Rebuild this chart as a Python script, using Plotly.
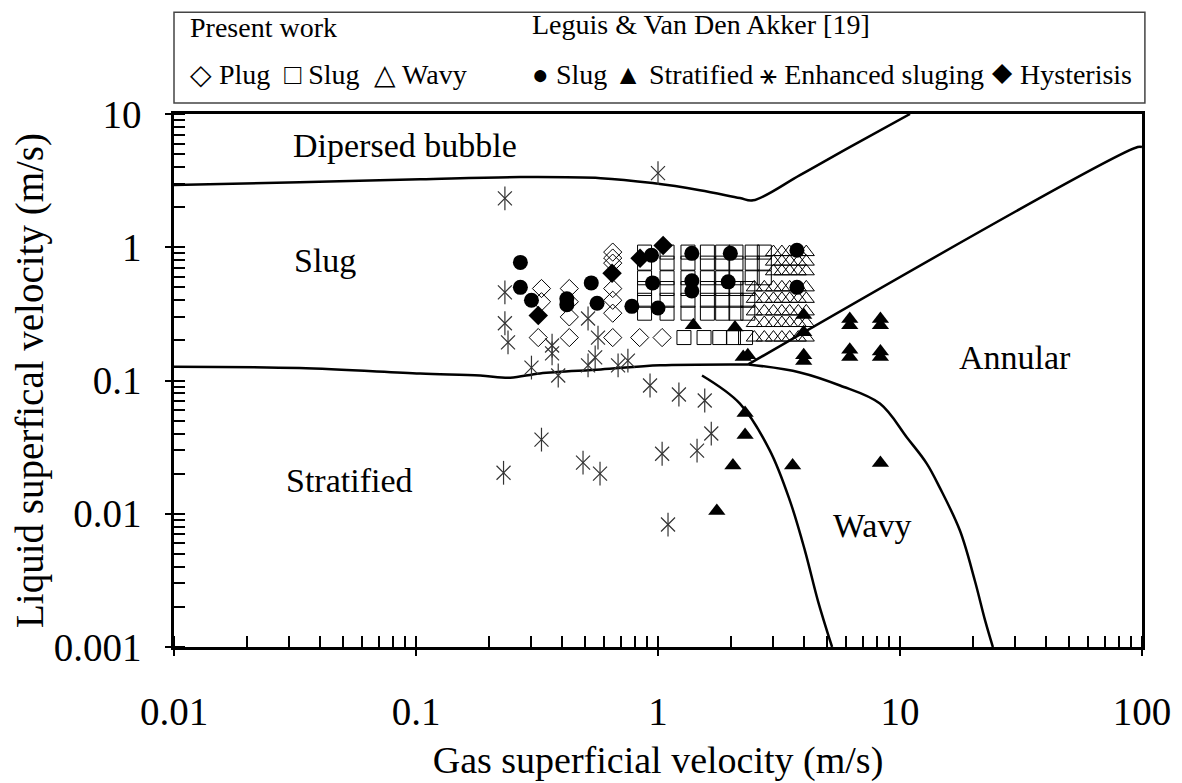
import numpy as np
import plotly.graph_objects as go

FONT = "Liberation Serif, Times New Roman, serif"

# ── Flow-regime boundaries (Taitel & Dukler type map) ────────────────────────
db_x = [0.01, 0.033, 0.104, 0.27, 0.58, 0.95, 1.49, 2.18, 2.47, 3.86, 6.2, 11.0]
db_y = [2.93, 3.08, 3.24, 3.36, 3.30, 3.03, 2.68, 2.34, 2.25, 3.48, 5.65, 10.0]

st_x = [0.01, 0.033, 0.104, 0.184, 0.245, 0.325, 0.58, 1.02, 2.18, 2.36]
st_y = [0.127, 0.124, 0.113, 0.109, 0.105, 0.113, 0.121, 0.130, 0.132, 0.132]

an_x = [2.36, 96.0, 100.0]
an_y = [0.132, 5.65, 5.65]

wa_x = [2.36, 3.86, 5.65, 8.26, 10.7, 12.9, 14.6, 17.7, 20.4, 22.5, 24.2]
wa_y = [0.132, 0.115, 0.0917, 0.0671, 0.0372, 0.0238, 0.0157, 0.00745, 0.00313, 0.00157, 0.001]

sw_x = [1.52, 2.18, 2.9, 3.51, 4.05, 4.58, 5.24]
sw_y = [0.109, 0.0671, 0.0298, 0.0125, 0.00527, 0.00222, 0.001]

# ── Present work ─────────────────────────────────────────────────────────────
plug_x = [0.33, 0.33, 0.32, 0.43, 0.43, 0.43, 0.43,
          0.65, 0.65, 0.65, 0.65, 0.65, 0.65, 0.65, 0.84, 1.04]
plug_y = [0.49, 0.39, 0.21, 0.49, 0.39, 0.30, 0.21,
          0.92, 0.83, 0.76, 0.49, 0.40, 0.32, 0.21, 0.21, 0.21]

slug_x = [0.88, 1.09, 1.33, 1.6, 1.85, 2.1, 2.45, 2.75,
          0.88, 1.09, 1.33, 1.6, 1.85, 2.1, 2.45, 2.75,
          0.88, 1.09, 1.33, 1.6, 1.85, 2.1, 2.45, 2.75,
          0.88, 1.09, 1.33, 1.6, 1.85, 2.1, 2.35,
          0.88, 1.09, 1.33, 1.6, 1.85, 2.1, 2.35,
          0.88, 1.09, 1.33, 1.6, 1.85, 2.1, 2.35,
          1.28, 1.55, 1.8, 2.05, 2.3]
slug_y = [0.92] * 8 + [0.76] * 8 + [0.59] * 8 + [0.49] * 7 + [0.40] * 7 + [0.32] * 7 + [0.21] * 5

wavy_x = [3.0, 3.25, 3.5, 3.8, 4.1,
          3.0, 3.25, 3.5, 3.8, 4.1,
          3.0, 3.25, 3.5, 3.8, 4.1,
          2.5, 2.75, 3.0, 3.25, 3.5, 3.8, 4.1,
          2.5, 2.75, 3.0, 3.25, 3.5, 3.8, 4.1,
          2.5, 2.75, 3.0, 3.25, 3.5, 3.8, 4.1,
          2.5, 2.75, 3.0, 3.25, 3.5, 3.8, 4.1,
          2.5, 2.75, 3.0, 3.25, 3.5, 3.8, 4.1]
wavy_y = [0.92] * 5 + [0.78] * 5 + [0.66] * 5 + [0.50] * 7 + [0.41] * 7 + [0.33] * 7 + [0.27] * 7 + [0.21] * 7

# ── Leguis & Van Den Akker [19] ──────────────────────────────────────────────
lslug_x = [0.27, 0.27, 0.30, 0.42, 0.42, 0.53, 0.56, 0.78, 0.95,
           0.94, 1.0, 1.38, 1.38, 1.38, 1.99, 1.95, 3.75, 3.75]
lslug_y = [0.77, 0.50, 0.40, 0.41, 0.37, 0.54, 0.38, 0.36, 0.54,
           0.87, 0.35, 0.90, 0.56, 0.47, 0.90, 0.55, 0.95, 0.50]

strat_x = [1.40, 2.08, 2.25, 2.35, 2.29, 2.29, 2.04, 1.75,
           4.0, 4.0, 4.0, 4.0, 6.2, 6.2, 6.2, 6.2,
           8.3, 8.3, 8.3, 8.3, 3.6, 8.3]
strat_y = [0.26, 0.25, 0.15, 0.155, 0.057, 0.039, 0.023, 0.0105,
           0.31, 0.23, 0.155, 0.14, 0.29, 0.26, 0.17, 0.15,
           0.29, 0.26, 0.165, 0.15, 0.023, 0.024]

enh_x = [0.233, 1.0, 0.233, 0.233, 0.24, 0.365, 0.365, 0.30, 0.387,
         0.514, 0.565, 0.55, 0.514, 0.684, 0.751, 0.927, 1.22, 1.56,
         1.66, 1.45, 1.04, 1.1, 0.33, 0.23, 0.49, 0.576]
enh_y = [2.33, 3.6, 0.459, 0.269, 0.193, 0.183, 0.16, 0.125, 0.109,
         0.292, 0.21, 0.149, 0.13, 0.13, 0.141, 0.0917, 0.0785, 0.0708,
         0.04, 0.0298, 0.0282, 0.0083, 0.036, 0.0203, 0.0242, 0.02]

hyst_x = [0.32, 0.646, 0.843, 1.05]
hyst_y = [0.308, 0.638, 0.826, 1.03]

# region labels
reg_text = ["Dipersed bubble", "Slug", "Stratified", "Annular", "Wavy"]
reg_x = [0.090, 0.042, 0.0533, 29.8, 7.65]
reg_y = [5.85, 0.80, 0.0177, 0.149, 0.0081]

fig = go.Figure()

for cx, cy in [(db_x, db_y), (st_x, st_y), (an_x, an_y), (wa_x, wa_y), (sw_x, sw_y)]:
    fig.add_trace(go.Scatter(x=cx, y=cy, mode="lines", line=dict(color="black", width=2.5),
                             line_shape="spline", hoverinfo="skip"))

mk_line = dict(color="black", width=1)
fig.add_trace(go.Scatter(x=plug_x, y=plug_y, mode="markers", name="Plug",
                         marker=dict(symbol="diamond-open", size=14, color="black", line=mk_line)))
fig.add_trace(go.Scatter(x=slug_x, y=slug_y, mode="markers", name="Slug",
                         marker=dict(symbol="square-open", size=14, color="black", line=mk_line)))
fig.add_trace(go.Scatter(x=wavy_x, y=wavy_y, mode="markers", name="Wavy",
                         marker=dict(symbol="triangle-up-open", size=14, color="black", line=mk_line)))
fig.add_trace(go.Scatter(x=lslug_x, y=lslug_y, mode="markers", name="Slug [19]",
                         marker=dict(symbol="circle", size=15, color="black")))
fig.add_trace(go.Scatter(x=strat_x, y=strat_y, mode="markers", name="Stratified [19]",
                         marker=dict(symbol="triangle-up", size=15, color="black")))
fig.add_trace(go.Scatter(x=enh_x, y=enh_y, mode="markers", name="Enhanced sluging",
                         marker=dict(symbol="x-thin-open", size=14, color="#333",
                                     line=dict(color="#333", width=1.2))))
fig.add_trace(go.Scatter(x=enh_x, y=enh_y, mode="markers", showlegend=False, hoverinfo="skip",
                         marker=dict(symbol="line-ns-open", size=17, color="#333",
                                     line=dict(color="#333", width=1.2))))
fig.add_trace(go.Scatter(x=hyst_x, y=hyst_y, mode="markers", name="Hysterisis",
                         marker=dict(symbol="diamond", size=15, color="black")))

for t, x, y in zip(reg_text, reg_x, reg_y):
    fig.add_annotation(x=np.log10(x), y=np.log10(y), text=t, showarrow=False,
                       font=dict(family=FONT, size=34, color="black"))

# legend box
fig.add_shape(type="rect", xref="paper", yref="paper", x0=0.0, x1=1.003, y0=1.0206, y1=1.191,
              line=dict(color="#444", width=1.5))
leg = [
    ("Present work", 0.0145, 1.163),
    ("◇ Plug  □ Slug  △ Wavy", 0.0145, 1.075),
    ("Leguis &amp; Van Den Akker [19]", 0.368, 1.168),
    ("● Slug ▲ Stratified ⚹ Enhanced sluging ◆ Hysterisis", 0.368, 1.075),
]
for t, x, y in leg:
    fig.add_annotation(xref="paper", yref="paper", x=x, y=y, text=t, showarrow=False,
                       xanchor="left", yanchor="middle",
                       font=dict(family=FONT, size=28, color="black"))

x_minor = [m * 10.0 ** e for e in range(-2, 2) for m in range(1, 10)] + [100]
y_minor = [m * 10.0 ** e for e in range(-3, 1) for m in range(1, 10)] + [10]

axis_common = dict(
    type="log", showgrid=False, zeroline=False, showline=True, linecolor="black",
    linewidth=2.5, mirror=True, ticks="outside", ticklen=6, tickwidth=1.5, tickcolor="black",
    tickfont=dict(family=FONT, size=39, color="black"), automargin=False,
)
fig.update_xaxes(**axis_common, range=[-2, 2],
                 tickvals=[0.01, 0.1, 1, 10, 100], ticktext=["0.01", "0.1", "1", "10", "100"],
                 ticklabelstandoff=22,
                 minor=dict(tickvals=x_minor, ticks="inside", ticklen=11, tickwidth=1.5,
                            tickcolor="black", showgrid=False),
                 title=dict(text="Gas superficial velocity (m/s)", standoff=15,
                            font=dict(family=FONT, size=38, color="black")))
fig.update_yaxes(**axis_common, range=[-3, 1],
                 tickvals=[0.001, 0.01, 0.1, 1, 10], ticktext=["0.001", "0.01", "0.1", "1", "10"],
                 ticklabelstandoff=16,
                 minor=dict(tickvals=y_minor, ticks="inside", ticklen=11, tickwidth=1.5,
                            tickcolor="black", showgrid=False),
                 title=dict(text="Liquid superfical velocity (m/s)", standoff=9,
                            font=dict(family=FONT, size=39, color="black")))

# page body has an 8 px margin, so the figure is shifted by 8 px
fig.update_layout(
    width=1174, height=775, showlegend=False,
    paper_bgcolor="white", plot_bgcolor="white",
    margin=dict(l=166, r=40, t=106, b=136),
    font=dict(family=FONT, color="black"),
)

fig.write_html("out.html")
